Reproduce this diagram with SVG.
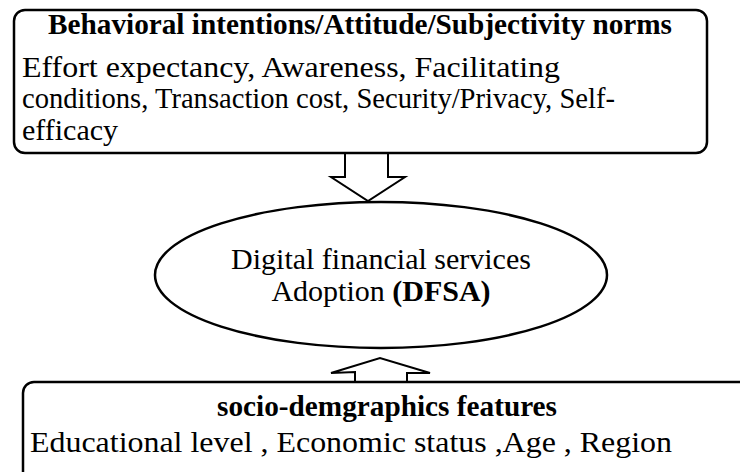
<svg xmlns="http://www.w3.org/2000/svg" width="740" height="472" viewBox="0 0 740 472">
<style>
.shape{fill:#fff;stroke:#000;stroke-width:2.5}
.arrow{fill:#fff;stroke:#000;stroke-width:2;stroke-linejoin:miter}
text{font-family:"Liberation Serif","Times New Roman",serif;fill:#000}
.b{font-weight:bold}
.t{font-size:29px}
.n{font-size:30px}
</style>
<rect width="740" height="472" fill="#fff"/>
<g id="connectors">
<polygon class="arrow" points="345,153 345,177 331,177 368,201 405,177 388,177 388,153"/>
<polygon class="arrow" points="355,382 355,372 331,373 380,358 430,373 407,373 407,382"/>
</g>
<g id="top-box">
<rect class="shape" x="14" y="10" width="693" height="143" rx="11"/>
<text class="b t" x="48" y="34" textLength="624" lengthAdjust="spacingAndGlyphs">Behavioral intentions/Attitude/Subjectivity norms</text>
<text class="n" x="22" y="77" textLength="538" lengthAdjust="spacingAndGlyphs">Effort expectancy, Awareness, Facilitating</text>
<text class="n" x="22" y="108" textLength="593" lengthAdjust="spacingAndGlyphs">conditions, Transaction cost, Security/Privacy, Self-</text>
<text class="n" x="22" y="140">efficacy</text>
</g>
<g id="dfsa">
<ellipse class="shape" cx="381" cy="275" rx="226" ry="73"/>
<text class="n" x="381" y="269" text-anchor="middle" font-size="29">Digital financial services</text>
<text class="n" x="381" y="301" text-anchor="middle" font-size="29">Adoption <tspan class="b">(DFSA)</tspan></text>
</g>
<g id="bottom-box">
<path class="shape" d="M742,382 H34 A11,11 0 0 0 23,393 V480"/>
<text class="b t" x="387" y="416" text-anchor="middle" textLength="340" lengthAdjust="spacingAndGlyphs">socio-demgraphics features</text>
<text class="n" x="30" y="452" textLength="642" lengthAdjust="spacingAndGlyphs">Educational level , Economic status ,Age , Region</text>
</g>
</svg>
